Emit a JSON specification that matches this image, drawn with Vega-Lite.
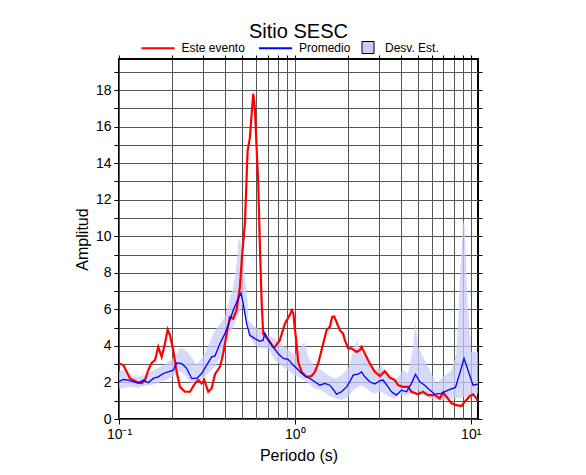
{
  "$schema": "https://vega.github.io/schema/vega-lite/v6.json",
  "width": 359,
  "height": 360,
  "autosize": {"type": "none"},
  "padding": {"left": 119, "top": 59, "right": 108, "bottom": 56},
  "background": "white",
  "config": {
    "font": "Liberation Sans",
    "view": {"stroke": "black", "strokeWidth": 2},
    "title": {"fontSize": 20, "fontWeight": "normal", "color": "black", "font": "Liberation Sans"},
    "axis": {"labelFont": "Liberation Sans", "titleFont": "Liberation Sans", "labelColor": "black", "titleColor": "black", "titleFontWeight": "normal", "tickColor": "black", "domain": false},
    "legend": {"orient": "none", "direction": "horizontal", "title": null,
      "labelFontSize": 12, "labelFont": "Liberation Sans", "labelColor": "black"}
  },
  "title": {"text": "Sitio SESC", "anchor": "middle", "offset": -11.5},
  "data": {
    "values": [
      {"s": "Desv. Est.", "T": 0.1, "lo": 1.65, "hi": 2.6},
      {"s": "Desv. Est.", "T": 0.1058, "lo": 1.7, "hi": 2.7},
      {"s": "Desv. Est.", "T": 0.1155, "lo": 1.75, "hi": 2.4},
      {"s": "Desv. Est.", "T": 0.126, "lo": 1.7, "hi": 2.3},
      {"s": "Desv. Est.", "T": 0.1405, "lo": 1.8, "hi": 2.4},
      {"s": "Desv. Est.", "T": 0.1602, "lo": 1.9, "hi": 2.7},
      {"s": "Desv. Est.", "T": 0.1825, "lo": 2.1, "hi": 3.0},
      {"s": "Desv. Est.", "T": 0.208, "lo": 2.4, "hi": 3.4},
      {"s": "Desv. Est.", "T": 0.2222, "lo": 2.6, "hi": 3.9},
      {"s": "Desv. Est.", "T": 0.2371, "lo": 2.4, "hi": 3.8},
      {"s": "Desv. Est.", "T": 0.2532, "lo": 2.0, "hi": 3.5},
      {"s": "Desv. Est.", "T": 0.2764, "lo": 1.95, "hi": 3.0},
      {"s": "Desv. Est.", "T": 0.3, "lo": 2.2, "hi": 3.4},
      {"s": "Desv. Est.", "T": 0.3289, "lo": 2.6, "hi": 4.2},
      {"s": "Desv. Est.", "T": 0.3513, "lo": 2.85, "hi": 4.86},
      {"s": "Desv. Est.", "T": 0.375, "lo": 3.3, "hi": 5.2},
      {"s": "Desv. Est.", "T": 0.4003, "lo": 4.04, "hi": 5.58},
      {"s": "Desv. Est.", "T": 0.4272, "lo": 4.6, "hi": 6.6},
      {"s": "Desv. Est.", "T": 0.4461, "lo": 5.04, "hi": 7.2},
      {"s": "Desv. Est.", "T": 0.4664, "lo": 5.5, "hi": 8.5},
      {"s": "Desv. Est.", "T": 0.4762, "lo": 5.67, "hi": 9.67},
      {"s": "Desv. Est.", "T": 0.487, "lo": 5.9, "hi": 9.9},
      {"s": "Desv. Est.", "T": 0.4982, "lo": 6.1, "hi": 9.4},
      {"s": "Desv. Est.", "T": 0.5085, "lo": 6.3, "hi": 8.86},
      {"s": "Desv. Est.", "T": 0.5199, "lo": 5.6, "hi": 7.76},
      {"s": "Desv. Est.", "T": 0.5386, "lo": 5.0, "hi": 6.5},
      {"s": "Desv. Est.", "T": 0.5428, "lo": 4.58, "hi": 5.4},
      {"s": "Desv. Est.", "T": 0.5925, "lo": 4.04, "hi": 5.04},
      {"s": "Desv. Est.", "T": 0.6468, "lo": 3.86, "hi": 4.86},
      {"s": "Desv. Est.", "T": 0.7051, "lo": 3.86, "hi": 4.58},
      {"s": "Desv. Est.", "T": 0.7697, "lo": 3.2, "hi": 4.4},
      {"s": "Desv. Est.", "T": 0.8774, "lo": 2.77, "hi": 3.94},
      {"s": "Desv. Est.", "T": 1.0, "lo": 2.4, "hi": 3.5},
      {"s": "Desv. Est.", "T": 1.0916, "lo": 2.2, "hi": 4.04},
      {"s": "Desv. Est.", "T": 1.1397, "lo": 2.1, "hi": 4.2},
      {"s": "Desv. Est.", "T": 1.19, "lo": 1.95, "hi": 3.4},
      {"s": "Desv. Est.", "T": 1.2991, "lo": 1.67, "hi": 2.85},
      {"s": "Desv. Est.", "T": 1.4181, "lo": 1.58, "hi": 2.67},
      {"s": "Desv. Est.", "T": 1.5462, "lo": 1.31, "hi": 2.4},
      {"s": "Desv. Est.", "T": 1.6877, "lo": 1.13, "hi": 2.22},
      {"s": "Desv. Est.", "T": 1.8424, "lo": 1.04, "hi": 2.4},
      {"s": "Desv. Est.", "T": 2.0085, "lo": 1.22, "hi": 2.77},
      {"s": "Desv. Est.", "T": 2.1448, "lo": 1.58, "hi": 3.67},
      {"s": "Desv. Est.", "T": 2.2422, "lo": 1.7, "hi": 4.31},
      {"s": "Desv. Est.", "T": 2.3933, "lo": 1.85, "hi": 3.58},
      {"s": "Desv. Est.", "T": 2.5556, "lo": 1.67, "hi": 3.31},
      {"s": "Desv. Est.", "T": 2.7856, "lo": 1.4, "hi": 2.67},
      {"s": "Desv. Est.", "T": 3.1093, "lo": 1.49, "hi": 2.85},
      {"s": "Desv. Est.", "T": 3.4661, "lo": 1.22, "hi": 2.22},
      {"s": "Desv. Est.", "T": 3.7004, "lo": 1.1, "hi": 2.1},
      {"s": "Desv. Est.", "T": 3.8634, "lo": 1.3, "hi": 2.31},
      {"s": "Desv. Est.", "T": 4.1243, "lo": 1.3, "hi": 2.67},
      {"s": "Desv. Est.", "T": 4.4033, "lo": 1.31, "hi": 2.49},
      {"s": "Desv. Est.", "T": 4.702, "lo": 1.4, "hi": 3.94},
      {"s": "Desv. Est.", "T": 4.8511, "lo": 1.5, "hi": 5.4},
      {"s": "Desv. Est.", "T": 5.0189, "lo": 1.58, "hi": 3.94},
      {"s": "Desv. Est.", "T": 5.478, "lo": 1.22, "hi": 3.22},
      {"s": "Desv. Est.", "T": 5.98, "lo": 1.13, "hi": 2.49},
      {"s": "Desv. Est.", "T": 6.385, "lo": 1.04, "hi": 1.95},
      {"s": "Desv. Est.", "T": 6.9614, "lo": 1.04, "hi": 2.31},
      {"s": "Desv. Est.", "T": 7.7677, "lo": 1.13, "hi": 2.67},
      {"s": "Desv. Est.", "T": 8.2951, "lo": 1.13, "hi": 3.58},
      {"s": "Desv. Est.", "T": 8.6596, "lo": 1.15, "hi": 7.4},
      {"s": "Desv. Est.", "T": 9.04, "lo": 1.2, "hi": 10.86},
      {"s": "Desv. Est.", "T": 9.2463, "lo": 1.2, "hi": 10.5},
      {"s": "Desv. Est.", "T": 9.577, "lo": 1.22, "hi": 6.49},
      {"s": "Desv. Est.", "T": 10.09, "lo": 1.22, "hi": 3.67},
      {"s": "Desv. Est.", "T": 11.0, "lo": 1.4, "hi": 3.67},

      {"s": "Este evento", "T": 0.1, "A": 3.04},
      {"s": "Este evento", "T": 0.1058, "A": 2.95},
      {"s": "Este evento", "T": 0.1106, "A": 2.58},
      {"s": "Este evento", "T": 0.1155, "A": 2.22},
      {"s": "Este evento", "T": 0.126, "A": 2.04},
      {"s": "Este evento", "T": 0.1346, "A": 1.95},
      {"s": "Este evento", "T": 0.1405, "A": 2.13},
      {"s": "Este evento", "T": 0.1467, "A": 2.67},
      {"s": "Este evento", "T": 0.1534, "A": 3.07},
      {"s": "Este evento", "T": 0.1602, "A": 3.22},
      {"s": "Este evento", "T": 0.1672, "A": 3.94},
      {"s": "Este evento", "T": 0.1748, "A": 3.4},
      {"s": "Este evento", "T": 0.1825, "A": 4.13},
      {"s": "Este evento", "T": 0.1891, "A": 4.89},
      {"s": "Este evento", "T": 0.1949, "A": 4.58},
      {"s": "Este evento", "T": 0.2035, "A": 3.76},
      {"s": "Este evento", "T": 0.2127, "A": 2.58},
      {"s": "Este evento", "T": 0.2222, "A": 1.76},
      {"s": "Este evento", "T": 0.2371, "A": 1.49},
      {"s": "Este evento", "T": 0.2532, "A": 1.49},
      {"s": "Este evento", "T": 0.2703, "A": 1.95},
      {"s": "Este evento", "T": 0.2822, "A": 2.13},
      {"s": "Este evento", "T": 0.2951, "A": 1.95},
      {"s": "Este evento", "T": 0.3053, "A": 2.13},
      {"s": "Este evento", "T": 0.3218, "A": 1.49},
      {"s": "Este evento", "T": 0.3364, "A": 1.67},
      {"s": "Este evento", "T": 0.3513, "A": 2.45},
      {"s": "Este evento", "T": 0.375, "A": 2.85},
      {"s": "Este evento", "T": 0.3915, "A": 3.58},
      {"s": "Este evento", "T": 0.4093, "A": 4.67},
      {"s": "Este evento", "T": 0.4272, "A": 5.58},
      {"s": "Este evento", "T": 0.4461, "A": 5.49},
      {"s": "Este evento", "T": 0.4664, "A": 5.95},
      {"s": "Este evento", "T": 0.487, "A": 7.22},
      {"s": "Este evento", "T": 0.5019, "A": 9.04},
      {"s": "Este evento", "T": 0.52, "A": 10.7},
      {"s": "Este evento", "T": 0.5386, "A": 14.67},
      {"s": "Este evento", "T": 0.555, "A": 15.4},
      {"s": "Este evento", "T": 0.5795, "A": 17.8},
      {"s": "Este evento", "T": 0.5925, "A": 17.0},
      {"s": "Este evento", "T": 0.6058, "A": 14.86},
      {"s": "Este evento", "T": 0.6186, "A": 13.0},
      {"s": "Este evento", "T": 0.6325, "A": 9.5},
      {"s": "Este evento", "T": 0.6468, "A": 6.5},
      {"s": "Este evento", "T": 0.6604, "A": 4.67},
      {"s": "Este evento", "T": 0.6752, "A": 4.58},
      {"s": "Este evento", "T": 0.7211, "A": 4.22},
      {"s": "Este evento", "T": 0.7528, "A": 3.94},
      {"s": "Este evento", "T": 0.7697, "A": 3.94},
      {"s": "Este evento", "T": 0.8218, "A": 4.31},
      {"s": "Este evento", "T": 0.8774, "A": 5.22},
      {"s": "Este evento", "T": 0.9367, "A": 5.7},
      {"s": "Este evento", "T": 0.96, "A": 5.95},
      {"s": "Este evento", "T": 0.98, "A": 5.8},
      {"s": "Este evento", "T": 1.0, "A": 4.95},
      {"s": "Este evento", "T": 1.0225, "A": 4.13},
      {"s": "Este evento", "T": 1.0442, "A": 3.13},
      {"s": "Este evento", "T": 1.0916, "A": 2.58},
      {"s": "Este evento", "T": 1.1654, "A": 2.31},
      {"s": "Este evento", "T": 1.2443, "A": 2.35},
      {"s": "Este evento", "T": 1.2991, "A": 2.58},
      {"s": "Este evento", "T": 1.3565, "A": 3.04},
      {"s": "Este evento", "T": 1.4181, "A": 3.76},
      {"s": "Este evento", "T": 1.514, "A": 4.86},
      {"s": "Este evento", "T": 1.5809, "A": 5.04},
      {"s": "Este evento", "T": 1.629, "A": 5.58},
      {"s": "Este evento", "T": 1.6723, "A": 5.62},
      {"s": "Este evento", "T": 1.7258, "A": 5.31},
      {"s": "Este evento", "T": 1.8021, "A": 4.86},
      {"s": "Este evento", "T": 1.8814, "A": 4.67},
      {"s": "Este evento", "T": 1.9238, "A": 4.31},
      {"s": "Este evento", "T": 2.0085, "A": 3.86},
      {"s": "Este evento", "T": 2.1003, "A": 3.86},
      {"s": "Este evento", "T": 2.2422, "A": 3.67},
      {"s": "Este evento", "T": 2.341, "A": 3.76},
      {"s": "Este evento", "T": 2.3933, "A": 3.94},
      {"s": "Este evento", "T": 2.4987, "A": 3.58},
      {"s": "Este evento", "T": 2.6683, "A": 3.04},
      {"s": "Este evento", "T": 2.848, "A": 2.58},
      {"s": "Este evento", "T": 3.0409, "A": 2.35},
      {"s": "Este evento", "T": 3.2466, "A": 2.62},
      {"s": "Este evento", "T": 3.4661, "A": 2.27},
      {"s": "Este evento", "T": 3.7004, "A": 2.13},
      {"s": "Este evento", "T": 3.8634, "A": 1.85},
      {"s": "Este evento", "T": 4.1243, "A": 1.76},
      {"s": "Este evento", "T": 4.4033, "A": 1.76},
      {"s": "Este evento", "T": 4.6036, "A": 1.49},
      {"s": "Este evento", "T": 5.0189, "A": 1.35},
      {"s": "Este evento", "T": 5.358, "A": 1.49},
      {"s": "Este evento", "T": 5.7202, "A": 1.31},
      {"s": "Este evento", "T": 6.2434, "A": 1.31},
      {"s": "Este evento", "T": 6.6681, "A": 1.13},
      {"s": "Este evento", "T": 6.9614, "A": 1.44},
      {"s": "Este evento", "T": 7.2778, "A": 1.22},
      {"s": "Este evento", "T": 7.7677, "A": 0.86},
      {"s": "Este evento", "T": 8.2951, "A": 0.76},
      {"s": "Este evento", "T": 8.8553, "A": 0.71},
      {"s": "Este evento", "T": 9.2463, "A": 0.95},
      {"s": "Este evento", "T": 9.8696, "A": 1.25},
      {"s": "Este evento", "T": 10.306, "A": 1.35},
      {"s": "Este evento", "T": 10.775, "A": 1.13},
      {"s": "Este evento", "T": 11.0, "A": 0.95},

      {"s": "Promedio", "T": 0.1, "A": 2.04},
      {"s": "Promedio", "T": 0.1058, "A": 2.16},
      {"s": "Promedio", "T": 0.1129, "A": 2.13},
      {"s": "Promedio", "T": 0.1206, "A": 2.04},
      {"s": "Promedio", "T": 0.1287, "A": 1.95},
      {"s": "Promedio", "T": 0.1374, "A": 2.13},
      {"s": "Promedio", "T": 0.1467, "A": 1.98},
      {"s": "Promedio", "T": 0.1567, "A": 2.22},
      {"s": "Promedio", "T": 0.1672, "A": 2.31},
      {"s": "Promedio", "T": 0.1785, "A": 2.49},
      {"s": "Promedio", "T": 0.1906, "A": 2.58},
      {"s": "Promedio", "T": 0.2035, "A": 2.67},
      {"s": "Promedio", "T": 0.2127, "A": 3.07},
      {"s": "Promedio", "T": 0.2272, "A": 3.04},
      {"s": "Promedio", "T": 0.2425, "A": 2.77},
      {"s": "Promedio", "T": 0.2589, "A": 2.22},
      {"s": "Promedio", "T": 0.2764, "A": 2.22},
      {"s": "Promedio", "T": 0.2951, "A": 2.49},
      {"s": "Promedio", "T": 0.3151, "A": 2.95},
      {"s": "Promedio", "T": 0.3364, "A": 3.4},
      {"s": "Promedio", "T": 0.3513, "A": 3.45},
      {"s": "Promedio", "T": 0.375, "A": 4.13},
      {"s": "Promedio", "T": 0.4003, "A": 4.67},
      {"s": "Promedio", "T": 0.4272, "A": 5.4},
      {"s": "Promedio", "T": 0.4461, "A": 5.95},
      {"s": "Promedio", "T": 0.4762, "A": 6.58},
      {"s": "Promedio", "T": 0.4934, "A": 6.89},
      {"s": "Promedio", "T": 0.5085, "A": 6.31},
      {"s": "Promedio", "T": 0.5316, "A": 5.22},
      {"s": "Promedio", "T": 0.555, "A": 4.58},
      {"s": "Promedio", "T": 0.5925, "A": 4.4},
      {"s": "Promedio", "T": 0.6325, "A": 4.25},
      {"s": "Promedio", "T": 0.6604, "A": 4.31},
      {"s": "Promedio", "T": 0.6752, "A": 4.71},
      {"s": "Promedio", "T": 0.7051, "A": 4.31},
      {"s": "Promedio", "T": 0.7528, "A": 3.94},
      {"s": "Promedio", "T": 0.8037, "A": 3.58},
      {"s": "Promedio", "T": 0.858, "A": 3.31},
      {"s": "Promedio", "T": 0.9161, "A": 3.26},
      {"s": "Promedio", "T": 0.9779, "A": 2.95},
      {"s": "Promedio", "T": 1.0442, "A": 2.7},
      {"s": "Promedio", "T": 1.0676, "A": 2.58},
      {"s": "Promedio", "T": 1.1397, "A": 2.35},
      {"s": "Promedio", "T": 1.2168, "A": 2.22},
      {"s": "Promedio", "T": 1.2991, "A": 2.04},
      {"s": "Promedio", "T": 1.3868, "A": 1.85},
      {"s": "Promedio", "T": 1.4808, "A": 1.95},
      {"s": "Promedio", "T": 1.5809, "A": 1.85},
      {"s": "Promedio", "T": 1.651, "A": 1.62},
      {"s": "Promedio", "T": 1.7258, "A": 1.36},
      {"s": "Promedio", "T": 1.8424, "A": 1.49},
      {"s": "Promedio", "T": 1.9672, "A": 1.76},
      {"s": "Promedio", "T": 2.0539, "A": 2.04},
      {"s": "Promedio", "T": 2.1448, "A": 2.4},
      {"s": "Promedio", "T": 2.2897, "A": 2.45},
      {"s": "Promedio", "T": 2.3933, "A": 2.58},
      {"s": "Promedio", "T": 2.4987, "A": 2.31},
      {"s": "Promedio", "T": 2.6683, "A": 2.04},
      {"s": "Promedio", "T": 2.848, "A": 1.91},
      {"s": "Promedio", "T": 3.0409, "A": 2.09},
      {"s": "Promedio", "T": 3.1749, "A": 2.13},
      {"s": "Promedio", "T": 3.3895, "A": 1.76},
      {"s": "Promedio", "T": 3.5437, "A": 1.49},
      {"s": "Promedio", "T": 3.7832, "A": 1.31},
      {"s": "Promedio", "T": 4.0394, "A": 1.58},
      {"s": "Promedio", "T": 4.3123, "A": 1.49},
      {"s": "Promedio", "T": 4.6036, "A": 1.95},
      {"s": "Promedio", "T": 4.8511, "A": 2.44},
      {"s": "Promedio", "T": 5.1312, "A": 2.04},
      {"s": "Promedio", "T": 5.478, "A": 1.85},
      {"s": "Promedio", "T": 5.8479, "A": 1.58},
      {"s": "Promedio", "T": 6.2434, "A": 1.36},
      {"s": "Promedio", "T": 6.817, "A": 1.4},
      {"s": "Promedio", "T": 7.4302, "A": 1.58},
      {"s": "Promedio", "T": 8.1866, "A": 1.73},
      {"s": "Promedio", "T": 8.6596, "A": 2.49},
      {"s": "Promedio", "T": 9.1614, "A": 3.31},
      {"s": "Promedio", "T": 9.6539, "A": 2.67},
      {"s": "Promedio", "T": 10.306, "A": 1.85},
      {"s": "Promedio", "T": 11.0, "A": 1.91}
    ]
  },
  "layer": [
    {
      "transform": [{"filter": "datum.s == 'Desv. Est.'"}],
      "mark": {"type": "area", "opacity": 0.75, "clip": true},
      "encoding": {
        "x": {"field": "T", "type": "quantitative",
          "scale": {"type": "log", "domain": [0.1, 11], "nice": false},
          "axis": {"orient": "bottom", "title": "Periodo (s)", "titleFontSize": 16, "titlePadding": 6,
            "values": [0.1, 0.2, 0.3, 0.4, 0.5, 0.6, 0.7, 0.8, 0.9, 1, 2, 3, 4, 5, 6, 7, 8, 9, 10],
            "labelExpr": "datum.value == 0.1 ? '10⁻¹' : datum.value == 1 ? '10⁰' : datum.value == 10 ? '10¹' : ''",
            "labelFontSize": 14, "labelPadding": 3, "tickSize": 5, "tickWidth": 1,
            "tickOpacity": {"condition": {"test": "datum.value == 0.1 || datum.value == 1 || datum.value == 10", "value": 1}, "value": 0},
            "grid": true, "gridColor": "#555555", "gridWidth": 1, "labelFlush": false, "labelOverlap": false}},
        "y": {"field": "lo", "type": "quantitative",
          "scale": {"domain": [0, 19.7], "nice": false, "zero": true},
          "axis": {"orient": "left", "title": "Amplitud", "titleFontSize": 16, "titlePadding": 5,
            "values": [0,1,2,3,4,5,6,7,8,9,10,11,12,13,14,15,16,17,18,19],
            "labelExpr": "datum.value % 2 == 0 ? datum.value : ''",
            "labelFontSize": 14, "labelPadding": 3, "tickSize": 5, "tickWidth": 1,
            "grid": true, "gridColor": "#555555", "gridWidth": 1, "labelOverlap": false}},
        "y2": {"field": "hi"},
        "fill": {"field": "s", "type": "nominal",
          "scale": {"domain": ["Desv. Est."], "range": ["#c8ccf8"]},
          "legend": {"legendX": 242.5, "legendY": -18, "symbolType": "square", "symbolSize": 144,
            "symbolStrokeColor": "#000000", "symbolStrokeWidth": 1, "symbolOpacity": 1, "symbolFillColor": "#d6d9fb",
            "labelOffset": 10.5}}
      }
    },
    {
      "transform": [{"filter": "datum.s == 'Este evento'"}],
      "mark": {"type": "line", "strokeWidth": 2.2, "clip": true},
      "encoding": {
        "x": {"field": "T", "type": "quantitative",
          "axis": {"orient": "top", "title": null, "labels": false, "grid": false, "tickSize": 4, "tickWidth": 1,
            "values": [0.1, 0.2, 0.3, 0.4, 0.5, 0.6, 0.7, 0.8, 0.9, 1, 2, 3, 4, 5, 6, 7, 8, 9, 10]}},
        "y": {"field": "A", "type": "quantitative",
          "axis": {"orient": "right", "title": null, "labels": false, "grid": false, "tickSize": 4, "tickWidth": 1,
            "values": [0,1,2,3,4,5,6,7,8,9,10,11,12,13,14,15,16,17,18,19]}},
        "stroke": {"field": "s", "type": "nominal",
          "scale": {"domain": ["Este evento", "Promedio"], "range": ["#ff0000", "#0000ff"]},
          "legend": {"legendX": 21.5, "legendY": -28.5, "symbolType": "stroke", "symbolSize": 1089, "symbolStrokeWidth": 2,
            "labelOffset": 6, "columnPadding": 9.5}}
      }
    },
    {
      "transform": [{"filter": "datum.s == 'Promedio'"}],
      "mark": {"type": "line", "strokeWidth": 1.3, "clip": true},
      "encoding": {
        "x": {"field": "T", "type": "quantitative", "axis": null},
        "y": {"field": "A", "type": "quantitative", "axis": null},
        "stroke": {"field": "s", "type": "nominal",
          "legend": {"legendX": 21.5, "legendY": -28.5, "symbolType": "stroke", "symbolSize": 1089, "symbolStrokeWidth": 2,
            "labelOffset": 6, "columnPadding": 9.5}}
      }
    }
  ],
  "resolve": {"axis": {"x": "independent", "y": "independent"}}
}
